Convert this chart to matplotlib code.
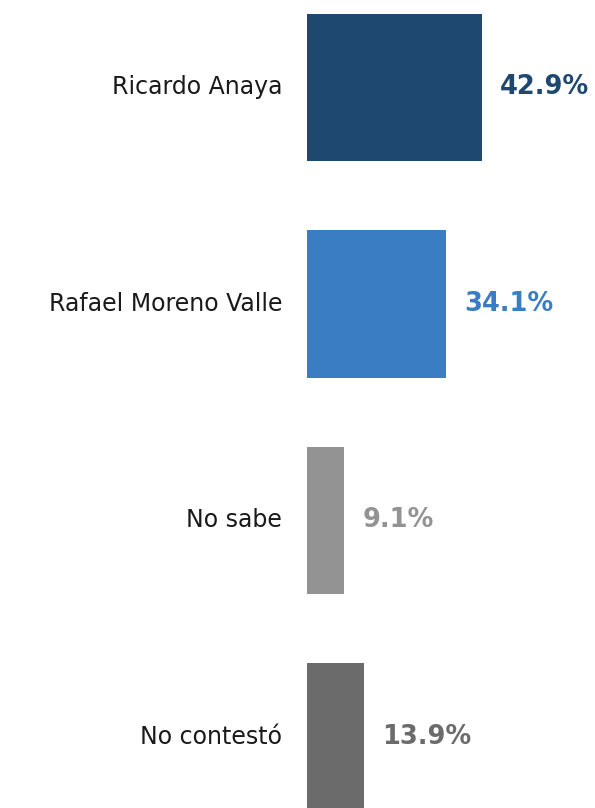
import matplotlib.pyplot as plt

categories = ["Ricardo Anaya", "Rafael Moreno Valle", "No sabe", "No contestó"]
values = [42.9, 34.1, 9.1, 13.9]
colors = ["#1F4870", "#3A7DC2", "#939393", "#6B6B6B"]
labels = ["42.9%", "34.1%", "9.1%", "13.9%"]

W, H = 595, 808
fig = plt.figure(figsize=(W / 100, H / 100), dpi=100)
ax = fig.add_axes([307 / W, 0, (W - 307) / W, 1])

ypos = list(range(len(categories)))
ax.barh(ypos, values, height=0.68, color=colors)
ax.set_xlim(0, (W - 307) / 4.08)
ax.set_ylim(3.328, -0.404)
ax.axis("off")

for y, v, lab, c, cat in zip(ypos, values, labels, colors, categories):
    ax.annotate(lab, (v, y), xytext=(13, 0), textcoords="offset points",
                ha="left", va="center", fontsize=18.5, fontweight="bold",
                color=c, family="DejaVu Sans")
    ax.annotate(cat, (0, y), xytext=(-18, 0), textcoords="offset points",
                ha="right", va="center", fontsize=17, color="#1a1a1a",
                family="DejaVu Sans", annotation_clip=False)

fig.savefig("out.png", dpi=100)
